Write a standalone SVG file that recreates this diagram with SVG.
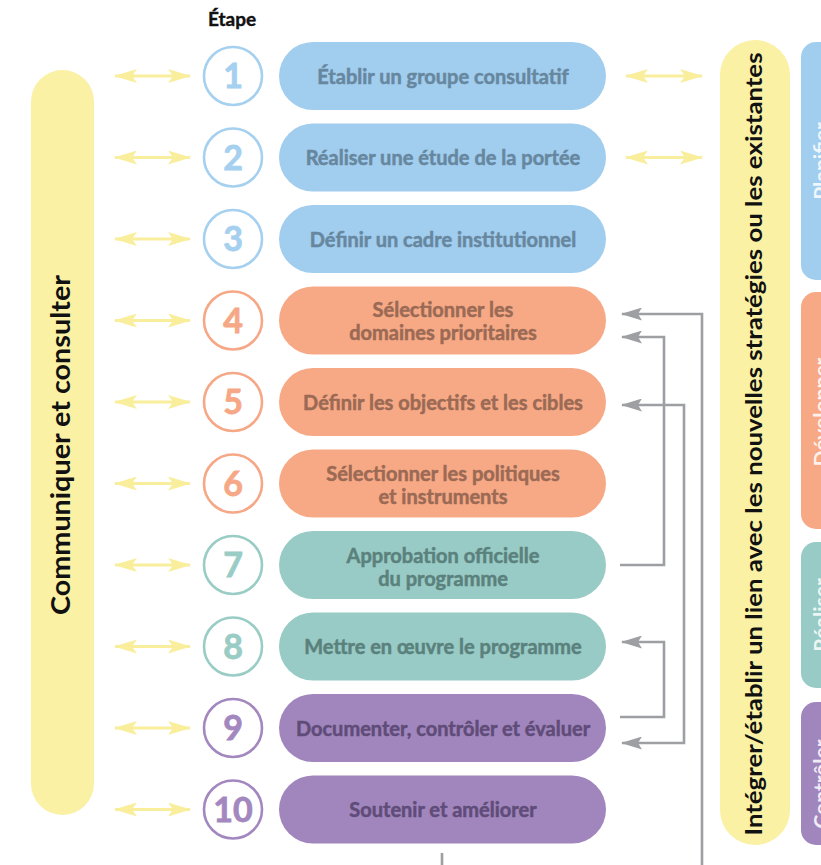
<svg xmlns="http://www.w3.org/2000/svg" width="821" height="865" viewBox="0 0 821 865">
<defs>
<style>
text{font-family:Lato,"Open Sans","Liberation Sans",sans-serif;font-weight:bold;}
.yl{stroke:#F8EE9B;stroke-width:3;fill:none;marker-start:url(#ya);marker-end:url(#ya);}
.gl{stroke:#9D9FA2;stroke-width:2.6;fill:none;}
.circ{fill:#fff;stroke-width:2.6;}
.num{font-size:34px;text-anchor:middle;stroke-width:0.8;}
.lbl{font-size:20px;text-anchor:middle;stroke-width:0.5;}
.blue .circ{stroke:#A5D0EF}.blue .num{fill:#A5D0EF;stroke:#A5D0EF}.blue .pill{fill:#A1CDEE}.blue .lbl{fill:#67879F;stroke:#67879F}
.orange .circ{stroke:#F6A886}.orange .num{fill:#F6A886;stroke:#F6A886}.orange .pill{fill:#F7A986}.orange .lbl{fill:#9B6A55;stroke:#9B6A55}
.teal .circ{stroke:#99CCC5}.teal .num{fill:#99CCC5;stroke:#99CCC5}.teal .pill{fill:#98CBC5}.teal .lbl{fill:#5B817D;stroke:#5B817D}
.purple .circ{stroke:#A387BF}.purple .num{fill:#A387BF;stroke:#A387BF}.purple .pill{fill:#A186BE}.purple .lbl{fill:#5F4C78;stroke:#5F4C78}
.phase{font-size:21px;fill:#fff;fill-opacity:0.85;text-anchor:middle;}
</style>
<marker id="ya" markerUnits="userSpaceOnUse" viewBox="0 0 23 14" refX="22" refY="7" markerWidth="23" markerHeight="14" orient="auto-start-reverse">
<path d="M0,0 L23,7 L0,14 L5,7 Z" fill="#F8EE9B"/>
</marker>
<marker id="ga" markerUnits="userSpaceOnUse" viewBox="0 0 21 13" refX="20" refY="6.5" markerWidth="21" markerHeight="13" orient="auto-start-reverse">
<path d="M0,0 L21,6.5 L0,13 L4,6.5 Z" fill="#9D9FA2"/>
</marker>
</defs>
<rect width="821" height="865" fill="#fff"/>

<text x="232" y="26" font-size="19" text-anchor="middle" fill="#111" stroke="#111" stroke-width="0.4">Étape</text>

<g id="communiquer">
<rect x="31" y="70" width="63" height="745" rx="31.5" fill="#FAF1A4"/>
<text transform="translate(70,445) rotate(-90)" font-size="27" text-anchor="middle" fill="#111" textLength="340" lengthAdjust="spacingAndGlyphs">Communiquer et consulter</text>
</g>

<g id="integrer">
<rect x="720" y="40" width="70" height="805" rx="35" fill="#FAF1A4"/>
<text transform="translate(762,444) rotate(-90)" font-size="23" text-anchor="middle" fill="#111" textLength="783" lengthAdjust="spacingAndGlyphs">Intégrer/établir un lien avec les nouvelles stratégies ou les existantes</text>
</g>

<g id="phase-planifier"><rect x="801" y="42" width="60" height="238" rx="15" fill="#A1CDEE"/><text class="phase" transform="translate(829,161) rotate(-90)">Planifier</text></g>
<g id="phase-developper"><rect x="801" y="292" width="60" height="237" rx="15" fill="#F7A986"/><text class="phase" transform="translate(829,412) rotate(-90)">Développer</text></g>
<g id="phase-realiser"><rect x="801" y="542" width="60" height="146" rx="15" fill="#98CBC5"/><text class="phase" transform="translate(829,615) rotate(-90)">Réaliser</text></g>
<g id="phase-controler"><rect x="801" y="702" width="60" height="143" rx="15" fill="#A186BE"/><text class="phase" transform="translate(829,784) rotate(-90)">Contrôler</text></g>

<g id="step1" class="blue"><circle class="circ" cx="233" cy="76" r="29"/><text class="num" x="233" y="88">1</text><rect class="pill" x="279" y="42" width="327" height="68" rx="34"/><text class="lbl" x="443" y="83.5">Établir un groupe consultatif</text></g>
<g id="step2" class="blue"><circle class="circ" cx="233" cy="157.5" r="29"/><text class="num" x="233" y="169.5">2</text><rect class="pill" x="279" y="123.5" width="327" height="68" rx="34"/><text class="lbl" x="443" y="165">Réaliser une étude de la portée</text></g>
<g id="step3" class="blue"><circle class="circ" cx="233" cy="239" r="29"/><text class="num" x="233" y="251">3</text><rect class="pill" x="279" y="205" width="327" height="68" rx="34"/><text class="lbl" x="443" y="246.5">Définir un cadre institutionnel</text></g>
<g id="step4" class="orange"><circle class="circ" cx="233" cy="320.5" r="29"/><text class="num" x="233" y="332.5">4</text><rect class="pill" x="279" y="286.5" width="327" height="68" rx="34"/><text class="lbl" x="443" y="317">Sélectionner les</text><text class="lbl" x="443" y="340">domaines prioritaires</text></g>
<g id="step5" class="orange"><circle class="circ" cx="233" cy="402" r="29"/><text class="num" x="233" y="414">5</text><rect class="pill" x="279" y="368" width="327" height="68" rx="34"/><text class="lbl" x="443" y="409.5">Définir les objectifs et les cibles</text></g>
<g id="step6" class="orange"><circle class="circ" cx="233" cy="483.5" r="29"/><text class="num" x="233" y="495.5">6</text><rect class="pill" x="279" y="449.5" width="327" height="68" rx="34"/><text class="lbl" x="443" y="480.5">Sélectionner les politiques</text><text class="lbl" x="443" y="503.5">et instruments</text></g>
<g id="step7" class="teal"><circle class="circ" cx="233" cy="565" r="29"/><text class="num" x="233" y="577">7</text><rect class="pill" x="279" y="531" width="327" height="68" rx="34"/><text class="lbl" x="443" y="562.5">Approbation officielle</text><text class="lbl" x="443" y="585.5">du programme</text></g>
<g id="step8" class="teal"><circle class="circ" cx="233" cy="646.5" r="29"/><text class="num" x="233" y="658.5">8</text><rect class="pill" x="279" y="612.5" width="327" height="68" rx="34"/><text class="lbl" x="443" y="654">Mettre en œuvre le programme</text></g>
<g id="step9" class="purple"><circle class="circ" cx="233" cy="728" r="29"/><text class="num" x="233" y="740">9</text><rect class="pill" x="279" y="694" width="327" height="68" rx="34"/><text class="lbl" x="443" y="735.5">Documenter, contrôler et évaluer</text></g>
<g id="step10" class="purple"><circle class="circ" cx="233" cy="809.5" r="29"/><text class="num" x="233" y="821.5">10</text><rect class="pill" x="279" y="775.5" width="327" height="68" rx="34"/><text class="lbl" x="443" y="817">Soutenir et améliorer</text></g>

<g id="connectors">
<path class="yl" d="M115,76 H190"/>
<path class="yl" d="M115,157.5 H190"/>
<path class="yl" d="M115,239 H190"/>
<path class="yl" d="M115,320.5 H190"/>
<path class="yl" d="M115,402 H190"/>
<path class="yl" d="M115,483.5 H190"/>
<path class="yl" d="M115,565 H190"/>
<path class="yl" d="M115,646.5 H190"/>
<path class="yl" d="M115,728 H190"/>
<path class="yl" d="M115,809.5 H190"/>
<path class="yl" d="M626,76 H702"/>
<path class="yl" d="M626,157.5 H702"/>
<path class="gl" d="M702,866 V314 H622" marker-end="url(#ga)"/>
<path class="gl" d="M620,565 H664 V337 H622" marker-end="url(#ga)"/>
<path class="gl" d="M622,743 H684 V405 H622" marker-start="url(#ga)" marker-end="url(#ga)"/>
<path class="gl" d="M620,717 H664 V642 H622" marker-end="url(#ga)"/>
<path class="gl" d="M442,853 V866"/>
</g>
</svg>
